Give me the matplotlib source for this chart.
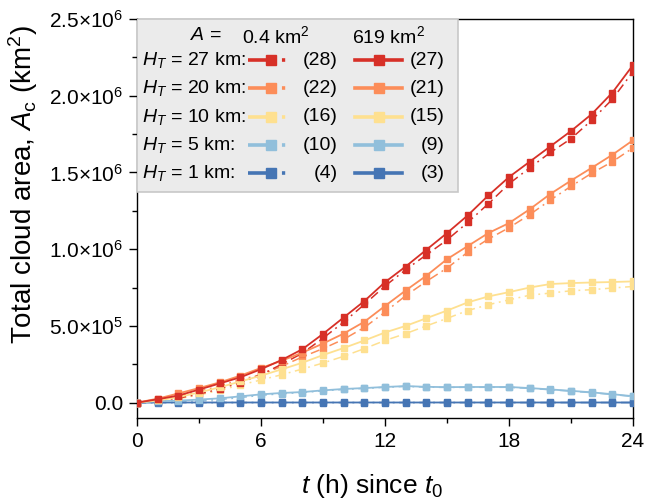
import numpy as np
import matplotlib
matplotlib.use('Agg')
import matplotlib.pyplot as plt
from matplotlib.patches import Rectangle
from matplotlib.ticker import MultipleLocator, FuncFormatter

plt.rcParams['font.family'] = ['Liberation Sans', 'DejaVu Sans']
plt.rcParams['mathtext.fontset'] = 'custom'
plt.rcParams['mathtext.rm'] = 'Liberation Sans'
plt.rcParams['mathtext.it'] = 'Liberation Sans:italic'
plt.rcParams['mathtext.bf'] = 'Liberation Sans:bold'

# hours since t0
t_hours = list(range(25))

# total cloud area in units of 1e6 km^2
# A = 619 km^2 (solid)
ht27_619 = [0, 0.022, 0.046, 0.085, 0.125, 0.165, 0.218, 0.278, 0.348, 0.448, 0.555, 0.662, 0.785,
            0.887, 0.996, 1.105, 1.22, 1.35, 1.47, 1.57, 1.67, 1.77, 1.88, 2.02, 2.20]
ht20_619 = [0, 0.026, 0.06, 0.095, 0.132, 0.176, 0.226, 0.273, 0.326, 0.385, 0.45, 0.527, 0.63,
            0.731, 0.827, 0.935, 1.02, 1.105, 1.17, 1.26, 1.36, 1.447, 1.53, 1.615, 1.71]
ht10_619 = [0, 0.014, 0.036, 0.066, 0.10, 0.138, 0.176, 0.217, 0.26, 0.31, 0.356, 0.405, 0.457,
            0.50, 0.55, 0.60, 0.653, 0.692, 0.72, 0.75, 0.773, 0.779, 0.783, 0.786, 0.79]
ht5_619 = [0, 0.009, 0.013, 0.02, 0.028, 0.041, 0.054, 0.063, 0.069, 0.08, 0.089, 0.095, 0.102,
           0.108, 0.103, 0.101, 0.102, 0.102, 0.102, 0.095, 0.086, 0.077, 0.067, 0.055, 0.042]
ht1_619 = [0, 0.001, 0.001, 0.001, 0.001, 0.001, 0.001, 0.001, 0.001, 0.001, 0.001, 0.001, 0.001,
           0.001, 0.001, 0.001, 0.001, 0.001, 0.001, 0.001, 0.001, 0.001, 0.001, 0.001, 0.001]
# A = 0.4 km^2 (dash-dot)
ht27_04 = [0, 0.013, 0.03, 0.055, 0.09, 0.13, 0.182, 0.25, 0.322, 0.42, 0.525, 0.64, 0.76,
           0.866, 0.963, 1.06, 1.174, 1.296, 1.426, 1.53, 1.63, 1.72, 1.84, 1.977, 2.157]
ht20_04 = [0, 0.02, 0.041, 0.074, 0.108, 0.15, 0.182, 0.237, 0.298, 0.352, 0.413, 0.49, 0.59,
           0.697, 0.79, 0.877, 0.98, 1.066, 1.14, 1.225, 1.32, 1.41, 1.495, 1.57, 1.66]
ht10_04 = [0, 0.01, 0.026, 0.05, 0.08, 0.115, 0.148, 0.182, 0.219, 0.258, 0.302, 0.352, 0.405,
           0.45, 0.50, 0.549, 0.60, 0.638, 0.67, 0.70, 0.714, 0.729, 0.736, 0.747, 0.757]
ht5_04 = [0, 0.005, 0.008, 0.012, 0.02, 0.033, 0.048, 0.058, 0.066, 0.077, 0.086, 0.093, 0.10,
          0.106, 0.101, 0.099, 0.10, 0.10, 0.10, 0.093, 0.084, 0.075, 0.065, 0.053, 0.04]
ht1_04 = [0, 0.0005, 0.0005, 0.0005, 0.0005, 0.0005, 0.0005, 0.0005, 0.0005, 0.0005, 0.0005, 0.0005, 0.0005,
          0.0005, 0.0005, 0.0005, 0.0005, 0.0005, 0.0005, 0.0005, 0.0005, 0.0005, 0.0005, 0.0005, 0.0005]

ht_labels = ['27', '20', '10', '5', '1']
counts_04 = ['(28)', '(22)', '(16)', '(10)', '(4)']
counts_619 = ['(27)', '(21)', '(15)', '(9)', '(3)']
colors = ['#d73027', '#fc8d59', '#fee090', '#91bfdb', '#4575b4']
series_04 = [ht27_04, ht20_04, ht10_04, ht5_04, ht1_04]
series_619 = [ht27_619, ht20_619, ht10_619, ht5_619, ht1_619]

fig = plt.figure(figsize=(6.46, 5.01), dpi=100)
ax = fig.add_axes([0.2121, 0.1657, 0.7678, 0.7964])

dashdot = (0, (6, 3, 1.2, 3))
# draw from bottom curve up so the red ones sit on top
for i in range(4, -1, -1):
    c = colors[i]
    y04 = np.array(series_04[i]) * 1e6
    y619 = np.array(series_619[i]) * 1e6
    ax.plot(t_hours, y04, color=c, ls=dashdot, lw=1.1, marker='s', ms=4.0, mec=c, mfc=c, zorder=3)
    ax.plot(t_hours, y619, color=c, ls='-', lw=1.3, marker='s', ms=4.0, mec=c, mfc=c, zorder=4)

ax.set_xlim(0, 24)
ax.set_ylim(-1e5, 2.5e6)
ax.xaxis.set_major_locator(MultipleLocator(6))
ax.xaxis.set_minor_locator(MultipleLocator(3))
ax.yaxis.set_major_locator(MultipleLocator(5e5))
ax.yaxis.set_minor_locator(MultipleLocator(2.5e5))


def sci_fmt(v, pos):
    if abs(v) < 1:
        return '0.0'
    e = int(np.floor(np.log10(abs(v))))
    m = v / 10 ** e
    return f'{m:.1f}\u00d710$^{{{e}}}$'


ax.yaxis.set_major_formatter(FuncFormatter(sci_fmt))
ax.tick_params(which='both', direction='out', top=False, right=False, width=1.0, labelsize=15)
ax.tick_params(which='major', length=6, pad=4)
ax.tick_params(which='minor', length=3.5)
for s in ax.spines.values():
    s.set_linewidth(1.0)

ax.set_xlabel(r'$t$ (h) since $\mathit{t_0}$', fontsize=19, labelpad=12)
ax.xaxis.set_label_coords(0.474, -0.135)
ax.set_ylabel(r'Total cloud area, $A_\mathrm{c}$ (km$^2$)', fontsize=20)
ax.yaxis.set_label_coords(-0.196, 0.584)

# legend panel, drawn by hand to match the table-like layout
ax.add_patch(Rectangle((0, 0.566), 0.647, 0.434, transform=ax.transAxes,
                       facecolor='#ebebeb', edgecolor='#c8c8c8', lw=1.2, zorder=5))
fs = 14
ax.text(0.107, 0.958, r'$A$ =', transform=ax.transAxes, fontsize=fs, va='center', ha='left', zorder=6)
ax.text(0.2117, 0.958, r'0.4 km$^2$', transform=ax.transAxes, fontsize=fs, va='center', ha='left', zorder=6)
ax.text(0.4335, 0.958, r'619 km$^2$', transform=ax.transAxes, fontsize=fs, va='center', ha='left', zorder=6)

row_y = [0.897, 0.826, 0.755, 0.684, 0.613]
for i in range(5):
    y = row_y[i]
    c = colors[i]
    ax.text(0.0101, y, r'$H_T$ = ' + ht_labels[i] + ' km:', transform=ax.transAxes,
            fontsize=fs, va='center', ha='left', zorder=6)
    ax.plot([0.2238, 0.3185], [y, y], transform=ax.transAxes, color=c, lw=2.6,
            ls=(0, (7.6, 1.8, 0.9, 10)), zorder=6, clip_on=False)
    ax.plot([0.271], [y], transform=ax.transAxes, marker='s', ms=6.5, color=c, zorder=7, clip_on=False)
    ax.text(0.4052, y, counts_04[i], transform=ax.transAxes, fontsize=fs, va='center', ha='right', zorder=6)
    ax.plot([0.4395, 0.5343], [y, y], transform=ax.transAxes, color=c, lw=2.6, zorder=6, clip_on=False)
    ax.plot([0.487], [y], transform=ax.transAxes, marker='s', ms=6.5, color=c, zorder=7, clip_on=False)
    ax.text(0.621, y, counts_619[i], transform=ax.transAxes, fontsize=fs, va='center', ha='right', zorder=6)

fig.savefig('out.png', dpi=100)
